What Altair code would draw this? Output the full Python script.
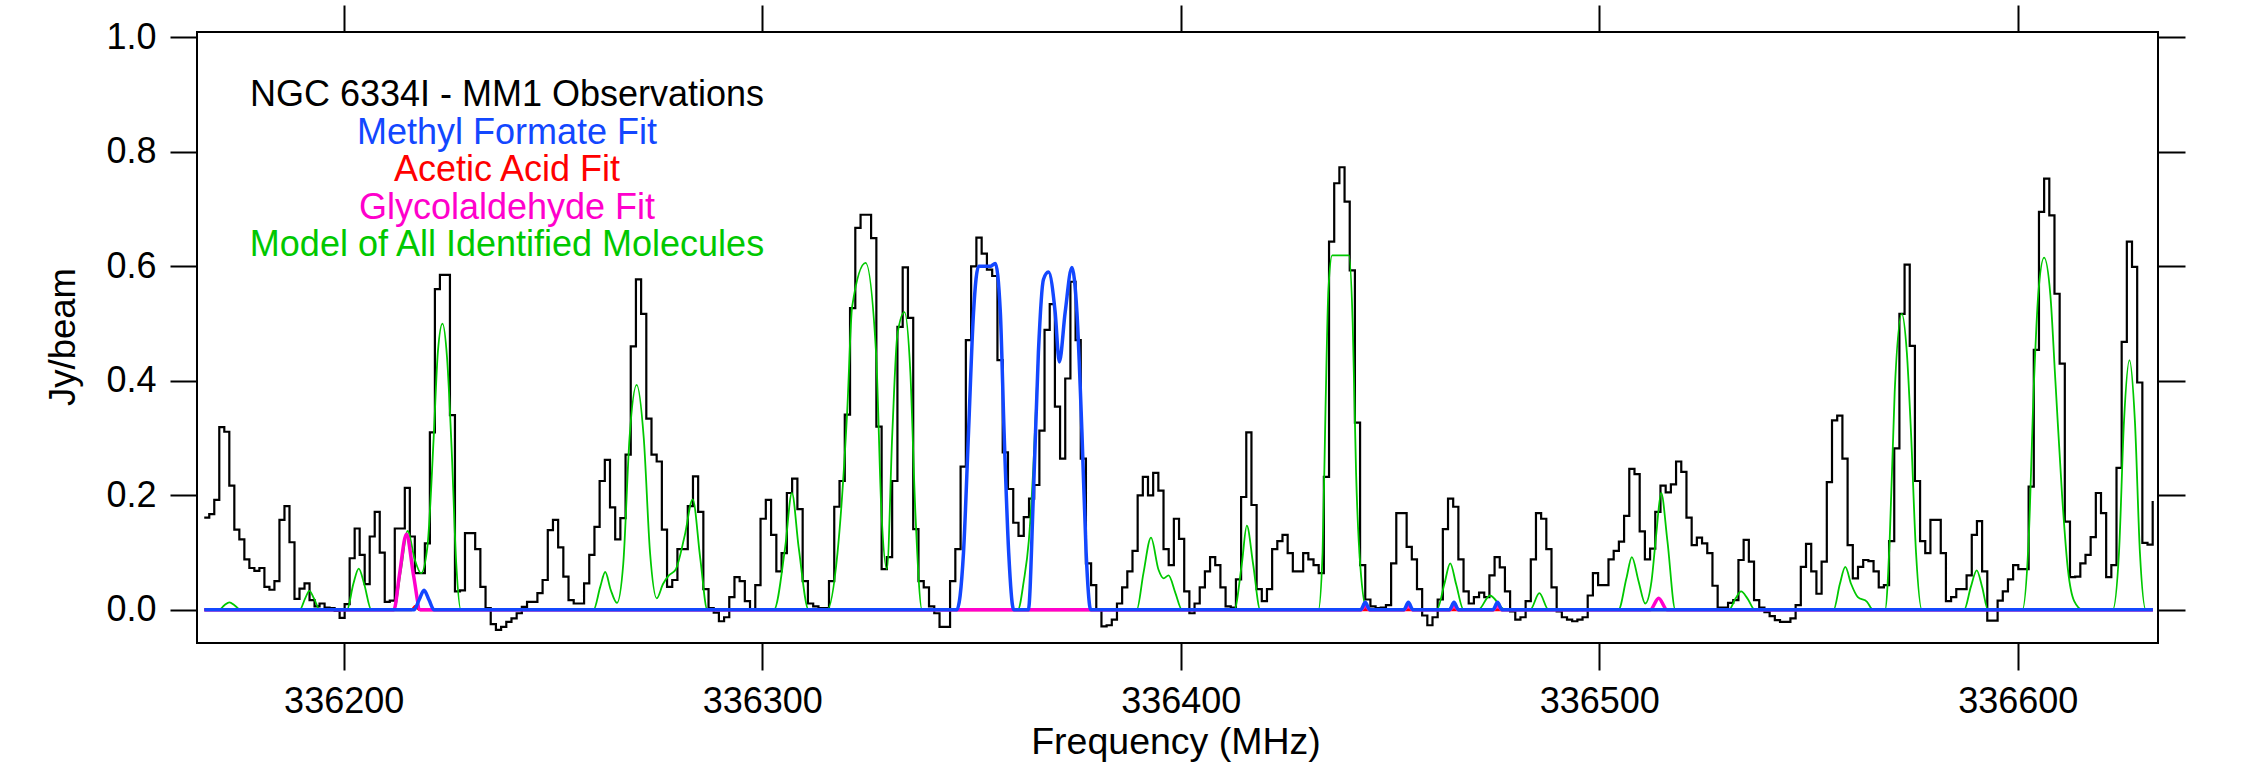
import altair as alt
import pandas as pd

FONT = "Liberation Sans"

# ---------------- observed spectrum (Jy/beam), channel steps in 7 contiguous stretches
obs_edges = [336166.68, 336230.18, 336297.09, 336363.76, 336430.50, 336497.25, 336564.32, 336632.25]
obs_seg1 = [0.161, 0.167, 0.192, 0.319, 0.311, 0.217, 0.140, 0.123, 0.088, 0.073,
            0.068, 0.073, 0.040, 0.035, 0.050, 0.157, 0.181, 0.118, 0.019, 0.037,
            0.046, 0.017, 0.006, 0.011, 0.004, 0.003, -0.002, -0.014, 0.010, 0.090,
            0.142, 0.096, 0.045, 0.128, 0.171, 0.100, 0.014, 0.016, 0.142, 0.142,
            0.213, 0.128, 0.064, 0.064, 0.116, 0.31, 0.56, 0.585, 0.585, 0.34,
            0.032, 0.034, 0.134]
obs_seg2 = [0.134, 0.106, 0.04, 0.003, -0.025, -0.035, -0.03, -0.021, -0.015, -0.006,
            0.005, 0.014, 0.014, 0.029, 0.052, 0.139, 0.157, 0.109, 0.058, 0.017,
            0.011, 0.011, 0.046, 0.096, 0.145, 0.225, 0.262, 0.179, 0.123, 0.160,
            0.271, 0.46, 0.577, 0.517, 0.334, 0.271, 0.259, 0.140, 0.040, 0.052,
            0.106, 0.106, 0.181, 0.233, 0.171, 0.036, 0.003, -0.005, -0.02, -0.013,
            0.022, 0.057, 0.05, 0.015]
obs_seg3 = [0.0, 0.043, 0.159, 0.192, 0.131, 0.067, 0.099, 0.204, 0.229, 0.176,
            0.05, 0.011, 0.006, 0.003, 0.003, 0.05, 0.18, 0.225, 0.341, 0.527,
            0.667, 0.69, 0.69, 0.649, 0.32, 0.071, 0.092, 0.225, 0.494, 0.598,
            0.51, 0.141, 0.05, 0.039, 0.006, -0.006, -0.03, -0.03, 0.05, 0.106,
            0.25, 0.471, 0.6, 0.65, 0.622, 0.594, 0.583, 0.436, 0.275, 0.211,
            0.152, 0.129, 0.162]
obs_seg4 = [0.194, 0.218, 0.313, 0.489, 0.534, 0.355, 0.264, 0.404, 0.573, 0.471,
            0.264, 0.081, 0.043, 0.0, -0.029, -0.027, -0.017, 0.011, 0.039, 0.067,
            0.103, 0.2, 0.232, 0.2, 0.239, 0.208, 0.106, 0.078, 0.159, 0.124,
            0.032, -0.006, 0.011, 0.039, 0.067, 0.092, 0.078, 0.039, 0.006, 0.004,
            0.053, 0.197, 0.31, 0.183, 0.036, 0.015, 0.036, 0.106, 0.12, 0.131,
            0.099, 0.067, 0.067, 0.099]
obs_seg5 = [0.088, 0.078, 0.064, 0.232, 0.643, 0.745, 0.773, 0.713, 0.593, 0.327,
            0.078, 0.018, 0.006, 0.003, 0.004, 0.008, 0.081, 0.169, 0.169, 0.11,
            0.088, 0.036, -0.01, -0.027, -0.013, 0.018, 0.141, 0.194, 0.18, 0.088,
            0.032, 0.011, 0.022, 0.03, 0.022, 0.06, 0.092, 0.074, 0.032, -0.003,
            -0.017, -0.013, 0.015, 0.088, 0.169, 0.159, 0.106, 0.039, -0.003, -0.013,
            -0.017, -0.02, -0.017, -0.013]
obs_seg6 = [0.025, 0.064, 0.043, 0.043, 0.088, 0.103, 0.119, 0.164, 0.246, 0.237,
            0.137, 0.088, 0.107, 0.171, 0.217, 0.205, 0.219, 0.259, 0.241, 0.161,
            0.113, 0.126, 0.116, 0.099, 0.042, 0.004, 0.004, 0.012, 0.017, 0.087,
            0.122, 0.084, 0.017, 0.004, -0.004, -0.011, -0.018, -0.021, -0.021, -0.015,
            0.008, 0.075, 0.115, 0.067, 0.028, 0.084, 0.223, 0.331, 0.339, 0.264,
            0.113, 0.055, 0.075, 0.087]
obs_seg7 = [0.085, 0.067, 0.039, 0.043, 0.12, 0.282, 0.517, 0.603, 0.461, 0.225,
            0.12, 0.099, 0.157, 0.157, 0.099, 0.015, 0.022, 0.036, 0.036, 0.06,
            0.131, 0.155, 0.067, -0.019, -0.019, 0.016, 0.032, 0.053, 0.078, 0.071,
            0.071, 0.215, 0.454, 0.695, 0.753, 0.689, 0.552, 0.43, 0.154, 0.057,
            0.058, 0.081, 0.096, 0.127, 0.204, 0.169, 0.057, 0.078, 0.248, 0.468,
            0.643, 0.599, 0.397, 0.117, 0.114]
obs_last = 0.19

# ---------------- model of all identified molecules (green)
model_freq = [336166.7,
              336170.2, 336171.5, 336172.7, 336173.9, 336175.3,
              336189.5, 336190.8, 336191.8, 336192.9, 336194.3,
              336200.8, 336202.3, 336203.6, 336204.9, 336206.6,
              336212.0, 336213.7, 336215.3, 336216.9, 336218.5, 336220.0, 336221.5, 336222.5,
              336223.6, 336224.7, 336225.8, 336226.9, 336228.0,
              336259.7, 336261.3, 336262.5, 336263.8, 336265.3, 336266.8, 336268.3, 336270.0,
              336271.7, 336273.2, 336274.8, 336276.3, 336277.7, 336279.3, 336281.5, 336283.4,
              336285.2, 336286.9,
              336302.8, 336305.5, 336307.1, 336308.7, 336311.1,
              336315.5, 336318.0, 336320.3, 336321.5, 336324.7, 336327.2, 336328.5, 336329.8,
              336331.1, 336332.3, 336334.0, 336335.4, 336336.6, 336338.2,
              336346.5, 336348.1, 336349.3, 336350.5, 336351.7, 336354.5, 336355.7, 336356.9,
              336357.8, 336358.9, 336360.1,
              336361.1, 336362.5, 336363.7, 336364.8, 336366.0, 336367.2, 336368.4, 336370.0,
              336371.0, 336372.4, 336374.0, 336375.2, 336376.4, 336377.4, 336378.5,
              336389.5, 336391.1, 336392.9, 336394.7, 336395.9, 336397.1, 336398.7, 336400.3,
              336412.8, 336414.6, 336415.8, 336417.3, 336419.0,
              336432.9, 336433.9, 336434.6, 336435.3, 336436.2, 336440.2, 336441.1, 336441.9,
              336442.9, 336444.5,
              336461.2, 336463.0, 336464.4, 336465.8, 336467.6,
              336471.1, 336473.9, 336477.5,
              336483.5, 336485.7, 336487.9,
              336504.6, 336506.5, 336507.8, 336509.4, 336511.0, 336512.5, 336513.6, 336514.8,
              336516.3, 336518.2,
              336531.0, 336532.6, 336533.9, 336535.4, 336537.2,
              336556.0, 336557.5, 336558.8, 336560.2, 336561.8, 336564.0, 336565.4,
              336568.3, 336569.4, 336570.6, 336572.3, 336573.5, 336574.5, 336575.7, 336577.1,
              336587.2, 336588.8, 336590.2, 336591.5, 336592.9,
              336601.1, 336602.6, 336603.9, 336604.9, 336606.3, 336607.8, 336609.0, 336610.6,
              336612.0, 336613.5, 336615.5,
              336622.7, 336624.2, 336625.4, 336626.7, 336628.0, 336629.2, 336630.6, 336632.3]
model_val = [0.0,
             0.0, 0.008, 0.013, 0.008, 0.0,
             0.0, 0.02, 0.033, 0.02, 0.0,
             0.0, 0.045, 0.072, 0.045, 0.0,
             0.0, 0.07, 0.138, 0.09, 0.064, 0.11, 0.3, 0.45,
             0.50, 0.44, 0.28, 0.08, 0.0,
             0.0, 0.04, 0.066, 0.035, 0.012, 0.08, 0.3, 0.393,
             0.3, 0.1, 0.02, 0.045, 0.06, 0.07, 0.13, 0.193,
             0.09, 0.0,
             0.0, 0.11, 0.204, 0.11, 0.0,
             0.0, 0.1, 0.345, 0.53, 0.606, 0.45, 0.17, 0.071,
             0.31, 0.48, 0.52, 0.415, 0.17, 0.0,
             0.0, 0.1, 0.31, 0.52, 0.6, 0.6, 0.605, 0.52,
             0.31, 0.1, 0.0,
             0.0, 0.05, 0.12, 0.25, 0.45, 0.577, 0.59, 0.52,
             0.433, 0.52, 0.598, 0.52, 0.31, 0.1, 0.0,
             0.0, 0.064, 0.126, 0.07, 0.055, 0.06, 0.03, 0.0,
             0.0, 0.08, 0.147, 0.08, 0.0,
             0.0, 0.1, 0.35, 0.56, 0.619, 0.619, 0.5, 0.24,
             0.078, 0.0,
             0.0, 0.045, 0.081, 0.045, 0.0,
             0.0, 0.025, 0.0,
             0.0, 0.029, 0.0,
             0.0, 0.055, 0.092, 0.05, 0.011, 0.05, 0.13, 0.204,
             0.12, 0.0,
             0.0, 0.02, 0.032, 0.02, 0.0,
             0.0, 0.045, 0.075, 0.045, 0.022, 0.014, 0.0,
             0.0, 0.12, 0.38, 0.517, 0.45, 0.31, 0.1, 0.0,
             0.0, 0.04, 0.069, 0.04, 0.0,
             0.0, 0.12, 0.4, 0.55, 0.615, 0.55, 0.4, 0.2,
             0.07, 0.015, 0.0,
             0.0, 0.1, 0.33, 0.436, 0.33, 0.1, 0.0, 0.0]

# ---------------- methyl formate fit (blue)
mf_freq = [336166.7, 336216.8, 336218.0, 336219.2, 336220.4, 336221.6,
           336346.5, 336348.1, 336349.3, 336350.5, 336351.7, 336354.5, 336355.7, 336356.9,
           336357.8, 336358.9, 336360.1,
           336363.6, 336364.8, 336366.0, 336367.2, 336368.4, 336370.0, 336371.0, 336372.4,
           336374.0, 336375.2, 336376.4, 336377.4, 336378.5,
           336443.0, 336444.1, 336445.2, 336453.3, 336454.4, 336455.5,
           336464.2, 336465.3, 336466.4, 336474.6, 336475.7, 336476.8, 336632.3]
mf_val = [0.0, 0.0, 0.017, 0.034, 0.017, 0.0,
          0.0, 0.1, 0.31, 0.52, 0.6, 0.6, 0.605, 0.52,
          0.31, 0.1, 0.0,
          0.0, 0.2, 0.45, 0.577, 0.59, 0.52, 0.433, 0.52,
          0.598, 0.52, 0.31, 0.1, 0.0,
          0.0, 0.013, 0.0, 0.0, 0.013, 0.0,
          0.0, 0.013, 0.0, 0.0, 0.013, 0.0, 0.0]

# ---------------- glycolaldehyde fit (magenta)
ga_freq = [336166.7, 336212.0, 336213.3, 336215.0, 336216.7, 336218.3,
           336443.1, 336444.1, 336445.1, 336453.4, 336454.4, 336455.4,
           336464.3, 336465.3, 336466.3, 336474.7, 336475.7, 336476.7,
           336512.2, 336514.2, 336516.2, 336632.3]
ga_val = [0.0, 0.0, 0.06, 0.132, 0.06, 0.0,
          0.0, 0.008, 0.0, 0.0, 0.008, 0.0,
          0.0, 0.008, 0.0, 0.0, 0.008, 0.0,
          0.0, 0.02, 0.0, 0.0]

# ---------------- acetic acid fit (red)
aa_freq = [336166.7, 336216.2, 336217.2, 336218.2, 336632.3]
aa_val = [0.0, 0.0, 0.006, 0.0, 0.0]

legend_labels = ["NGC 6334I - MM1 Observations", "Methyl Formate Fit", "Acetic Acid Fit",
                 "Glycolaldehyde Fit", "Model of All Identified Molecules"]
x_ticks = [336200, 336300, 336400, 336500, 336600]
y_ticks = [0.0, 0.2, 0.4, 0.6, 0.8, 1.0]

# ---------------- build tables
obs_rows = []
segs = [obs_seg1, obs_seg2, obs_seg3, obs_seg4, obs_seg5, obs_seg6, obs_seg7]
for k, seg in enumerate(segs):
    a, b = obs_edges[k], obs_edges[k + 1]
    w = (b - a) / len(seg)
    for j, v in enumerate(seg):
        obs_rows.append({"f": a + j * w, "v": v})
obs_rows.append({"f": obs_edges[-1], "v": obs_last})
obs_df = pd.DataFrame(obs_rows)
model_df = pd.DataFrame({"f": model_freq, "v": model_val})
mf_df = pd.DataFrame({"f": mf_freq, "v": mf_val})
ga_df = pd.DataFrame({"f": ga_freq, "v": ga_val})
aa_df = pd.DataFrame({"f": aa_freq, "v": aa_val})

BLACK = "#000000"
BLUE = "#1347ff"
RED = "#ff0000"
MAGENTA = "#ff00cc"
GREEN = "#00c800"
colors = [BLACK, BLUE, RED, MAGENTA, GREEN]

xscale = alt.Scale(domain=[336164.95, 336633.52], nice=False, zero=False)
yscale = alt.Scale(domain=[-0.058, 1.0092], nice=False, zero=False)


def make_axis(orient, labels, values, fmt):
    return alt.Axis(orient=orient, labels=labels, values=values, format=fmt, title=None,
                    grid=False, domain=False, ticks=True, tickSize=27, tickWidth=2,
                    tickColor="black", labelFont=FONT, labelFontSize=36, labelColor="black",
                    labelPadding=14, labelFlush=False, labelOverlap=False)


obs_layer = alt.Chart(obs_df).mark_line(
    interpolate="step-after", color=BLACK, strokeWidth=2.2
).encode(
    x=alt.X("f:Q", scale=xscale, axis=make_axis("bottom", True, x_ticks, "d")),
    y=alt.Y("v:Q", scale=yscale, axis=make_axis("left", True, y_ticks, ".1f")),
)

model_layer = alt.Chart(model_df).mark_line(
    interpolate="monotone", color=GREEN, strokeWidth=1.8
).encode(
    x=alt.X("f:Q", scale=xscale, axis=make_axis("top", False, x_ticks, "d")),
    y=alt.Y("v:Q", scale=yscale, axis=make_axis("right", False, y_ticks, ".1f")),
)


def fit_layer(df, color, width):
    return alt.Chart(df).mark_line(interpolate="monotone", color=color, strokeWidth=width).encode(
        x=alt.X("f:Q", scale=xscale, axis=None),
        y=alt.Y("v:Q", scale=yscale, axis=None),
    )


aa_layer = fit_layer(aa_df, RED, 3)
ga_layer = fit_layer(ga_df, MAGENTA, 3.5)
mf_layer = fit_layer(mf_df, BLUE, 3.5)

text_layers = []
for i, (lab, col) in enumerate(zip(legend_labels, colors)):
    text_layers.append(
        alt.Chart(pd.DataFrame({"t": [lab]})).mark_text(
            font=FONT, fontSize=36, color=col, align="center", baseline="alphabetic"
        ).encode(x=alt.value(310), y=alt.value(74 + 37.5 * i), text="t:N")
    )

xtitle = alt.Chart(pd.DataFrame({"t": ["Frequency (MHz)"]})).mark_text(
    font=FONT, fontSize=37.5, color="black", align="center", baseline="alphabetic"
).encode(x=alt.value(979), y=alt.value(722), text="t:N")

ytitle = alt.Chart(pd.DataFrame({"t": ["Jy/beam"]})).mark_text(
    font=FONT, fontSize=36.5, color="black", align="center", baseline="middle", angle=270
).encode(x=alt.value(-133), y=alt.value(305), text="t:N")

chart = alt.layer(
    obs_layer, model_layer, aa_layer, ga_layer, mf_layer, *text_layers, xtitle, ytitle
).resolve_axis(
    x="independent", y="independent"
).properties(
    width=1961, height=611,
    padding={"left": 197, "top": 32, "right": 83, "bottom": 127},
    autosize=alt.AutoSizeParams(type="none"),
    background="white",
).configure_view(
    stroke="black", strokeWidth=2
)

chart.save("out.html", embed_options={"renderer": "svg", "actions": False})
